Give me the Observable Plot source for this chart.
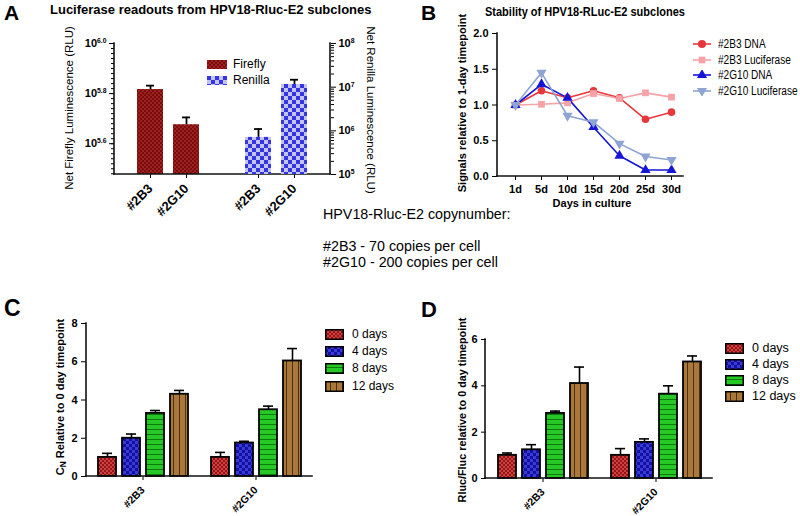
<!DOCTYPE html>
<html><head><meta charset="utf-8">
<script src="https://cdn.jsdelivr.net/npm/d3@7"></script>
<script src="https://cdn.jsdelivr.net/npm/@observablehq/plot@0.6"></script>
<style>
body{margin:0;background:#fff;}
#fig{position:relative;width:800px;height:516px;overflow:hidden;font-family:"Liberation Sans",Arial,sans-serif;color:#000;background:#fff;}
.abs{position:absolute;white-space:nowrap;line-height:1;}
.panel{position:absolute;}
.panel svg{position:absolute;left:0;top:0;max-width:none;}
.big{font-weight:bold;}
.rot{position:absolute;white-space:nowrap;line-height:1;transform:translate(-50%,-50%) rotate(-90deg);}
.rotr{position:absolute;white-space:nowrap;line-height:1;transform:translate(-50%,-50%) rotate(90deg);}
.leg{position:absolute;display:flex;align-items:center;white-space:nowrap;line-height:1;}
.leg svg{display:block;}
.narrow{display:inline-block;transform:scaleX(0.84);transform-origin:0 50%;}
</style></head>
<body>
<svg width="0" height="0" style="position:absolute">
<defs>
<pattern id="patFF" width="4" height="4" patternUnits="userSpaceOnUse"><rect width="4" height="4" fill="#7c0c0c"/><rect width="2" height="2" fill="#9a2222"/><rect x="2" y="2" width="2" height="2" fill="#9a2222"/></pattern>
<pattern id="patRN" width="8" height="8" patternUnits="userSpaceOnUse"><rect width="8" height="8" fill="#c4c4f4"/><rect width="4" height="4" fill="#3535e2"/><rect x="4" y="4" width="4" height="4" fill="#3535e2"/></pattern>
<pattern id="pat0" width="4" height="4" patternUnits="userSpaceOnUse"><rect width="4" height="4" fill="#9a1414"/><rect width="2" height="2" fill="#c84444"/><rect x="2" y="2" width="2" height="2" fill="#c84444"/></pattern>
<pattern id="pat4" width="6" height="6" patternUnits="userSpaceOnUse"><rect width="6" height="6" fill="#12129c"/><rect width="3" height="3" fill="#3a3ad8"/><rect x="3" y="3" width="3" height="3" fill="#3a3ad8"/></pattern>
<pattern id="pat8" width="5" height="5" patternUnits="userSpaceOnUse"><rect width="5" height="5" fill="#26c826"/><rect y="4" width="5" height="1" fill="#0d7a0d"/></pattern>
<pattern id="pat12" width="6" height="6" patternUnits="userSpaceOnUse"><rect width="6" height="6" fill="#a9783a"/><rect x="5" width="1" height="6" fill="#4e300c"/></pattern>
</defs>
</svg>
<div id="fig"></div>
<script>
// ---------- DATA ----------
// Panel A
const aClones = ["#2B3", "#2G10"];
const aAssays = ["Firefly", "Renilla"];
const fireflyRLU = [655000, 474000];
const fireflyErrTop = [679000, 507000];
const renillaRLU = [708000, 11500000];
const renillaErrTop = [1100000, 14800000];
const fireflyTickExp = [5.6, 5.8, 6.0];
const renillaTickExp = [5, 6, 7, 8];
const fireflyDomain = [300000, 1000000];
const renillaDomain = [100000, 100000000];

// Panel B
const days = ["1d", "5d", "10d", "15d", "20d", "25d", "30d"];
const seriesB = ["#2B3 DNA", "#2B3 Luciferase", "#2G10 DNA", "#2G10 Luciferase"];
const b2B3DNA = [1.0, 1.2, 1.1, 1.2, 1.1, 0.8, 0.9];
const b2B3Luc = [1.0, 1.01, 1.03, 1.16, 1.09, 1.17, 1.11];
const b2G10DNA = [1.0, 1.29, 1.1, 0.69, 0.29, 0.09, 0.09];
const b2G10Luc = [1.0, 1.45, 0.85, 0.76, 0.46, 0.28, 0.23];
const bTicks = [0, 0.5, 1.0, 1.5, 2.0];
const colorsB = ["#e8373c", "#f5a3a6", "#1515d8", "#8ea4d2"];

// Panels C & D
const groups = ["#2B3", "#2G10"];
const timepoints = ["0 days", "4 days", "8 days", "12 days"];
const cMean2B3 = [1.0, 2.0, 3.3, 4.3];
const cTop2B3 = [1.21, 2.22, 3.45, 4.5];
const cMean2G10 = [1.0, 1.75, 3.49, 6.04];
const cTop2G10 = [1.26, 1.84, 3.68, 6.69];
const cTicks = [0, 2, 4, 6, 8];
const dMean2B3 = [1.0, 1.24, 2.81, 4.1];
const dTop2B3 = [1.1, 1.46, 2.91, 4.81];
const dMean2G10 = [1.0, 1.56, 3.64, 5.03];
const dTop2G10 = [1.29, 1.71, 4.0, 5.29];
const dTicks = [0, 2, 4, 6];
const patterns = ["url(#pat0)", "url(#pat4)", "url(#pat8)", "url(#pat12)"];

// ---------- HELPERS ----------
const FONT = "'Liberation Sans', Arial, sans-serif";
const baseStyle = `font-family:${FONT};font-size:11px;font-weight:bold;color:#000;background:transparent;overflow:visible;`;
const fig = document.getElementById("fig");

function panel(left, top, w, h) {
  const d = document.createElement("div");
  d.className = "panel";
  Object.assign(d.style, {left: left + "px", top: top + "px", width: w + "px", height: h + "px"});
  fig.appendChild(d);
  return d;
}
function text(html, cls, css) {
  const d = document.createElement("div");
  d.className = cls;
  d.innerHTML = html;
  Object.assign(d.style, css);
  fig.appendChild(d);
  return d;
}
function axisLines(svg, xs, ys, sides) {
  const [x0, x1] = d3.extent(xs.range), [y0, y1] = d3.extent(ys.range);
  const g = d3.select(svg).append("g").attr("stroke", "#111").attr("stroke-width", 1.6).attr("stroke-linecap", "square");
  if (sides.includes("left")) g.append("line").attr("x1", x0).attr("x2", x0).attr("y1", y0).attr("y2", y1);
  if (sides.includes("right")) g.append("line").attr("x1", x1).attr("x2", x1).attr("y1", y0).attr("y2", y1);
  if (sides.includes("bottom")) g.append("line").attr("x1", x0).attr("x2", x1).attr("y1", y1).attr("y2", y1);
}
function superscripts(svg) {
  svg.querySelectorAll("text").forEach(t => {
    const s = t.textContent;
    if (!s.includes("^")) return;
    const [b, e] = s.split("^");
    t.textContent = b;
    const ts = document.createElementNS("http://www.w3.org/2000/svg", "tspan");
    ts.setAttribute("dy", "-0.55em");
    ts.setAttribute("font-size", "0.62em");
    ts.textContent = e;
    t.appendChild(ts);
  });
}

// ---------- PANEL A ----------
const aSlots = [...aClones.map(c => "Firefly " + c), "gap", ...aClones.map(c => "Renilla " + c)];
const aTickSlots = aSlots.filter(s => s !== "gap");
const ffRows = aClones.map((c, i) => ({slot: "Firefly " + c, base: fireflyDomain[0], value: fireflyRLU[i], top: fireflyErrTop[i]}));
const rnRows = aClones.map((c, i) => ({slot: "Renilla " + c, base: renillaDomain[0], value: renillaRLU[i], top: renillaErrTop[i]}));
const ffMinor = d3.range(5.48, 6.0, 0.02).map(e => 10 ** e);
const rnMinor = d3.range(5, 8).flatMap(k => d3.range(2, 10).map(m => m * 10 ** k));
const aX = {domain: aSlots, paddingInner: 0.27, paddingOuter: 0.554, label: null};
const aDims = {width: 400, height: 240, marginLeft: 114, marginRight: 70, marginTop: 43, marginBottom: 66, style: baseStyle};

const pA = panel(0, 0, 400, 240);
const plotFF = Plot.plot({
  ...aDims,
  x: aX,
  y: {type: "log", domain: fireflyDomain, label: null},
  marks: [
    Plot.ruleX(ffRows, {x: "slot", y1: "value", y2: "top", stroke: "#000", strokeWidth: 1.8}),
    Plot.tickY(ffRows, {x: "slot", y: "top", stroke: "#000", strokeWidth: 1.8, insetLeft: 9, insetRight: 9}),
    Plot.barY(ffRows, {x: "slot", y1: "base", y2: "value", fill: "url(#patFF)"}),
    Plot.axisY(ffMinor, {tickSize: 3, tickFormat: () => "", label: null}),
    Plot.axisY(fireflyTickExp.map(e => 10 ** e), {tickSize: 5, tickFormat: () => "", label: null}),
    Plot.text(fireflyTickExp, {y: e => 10 ** e, text: e => "10^" + e.toFixed(1), frameAnchor: "left", textAnchor: "end", dx: -8, fontSize: 11, fill: "#000"}),
    Plot.axisX(aTickSlots, {tickRotate: -45, tickSize: 4, label: null, tickFormat: d => d.split(" ")[1], fontSize: 13, fill: "#000", stroke: "#000"})
  ]
});
pA.appendChild(plotFF);
axisLines(plotFF, plotFF.scale("x"), plotFF.scale("y"), ["left", "bottom"]);
superscripts(plotFF);

const plotRN = Plot.plot({
  ...aDims,
  x: {...aX, axis: null},
  y: {type: "log", domain: renillaDomain, label: null},
  marks: [
    Plot.ruleX(rnRows, {x: "slot", y1: "value", y2: "top", stroke: "#000", strokeWidth: 1.8}),
    Plot.tickY(rnRows, {x: "slot", y: "top", stroke: "#000", strokeWidth: 1.8, insetLeft: 9, insetRight: 9}),
    Plot.barY(rnRows, {x: "slot", y1: "base", y2: "value", fill: "url(#patRN)"}),
    Plot.axisY(rnMinor, {anchor: "right", tickSize: 3, tickFormat: () => "", label: null}),
    Plot.axisY(renillaTickExp.map(e => 10 ** e), {anchor: "right", tickSize: 5, tickFormat: () => "", label: null}),
    Plot.text(renillaTickExp, {y: e => 10 ** e, text: e => "10^" + e, frameAnchor: "right", textAnchor: "start", dx: 8, fontSize: 11, fill: "#000"})
  ]
});
pA.appendChild(plotRN);
axisLines(plotRN, plotRN.scale("x"), plotRN.scale("y"), ["right"]);
superscripts(plotRN);

text("A", "abs big", {left: "4px", top: "2px", fontSize: "21px"});
text("Luciferase readouts from HPV18-Rluc-E2 subclones", "abs big", {left: "50px", top: "3px", fontSize: "13px"});
text("Net Firefly Luminescence (RLU)", "rot", {left: "70px", top: "108px", fontSize: "11.5px"});
text("Net Renilla Luminescence (RLU)", "rotr", {left: "370px", top: "110px", fontSize: "11.5px"});
const aLegTop = [58, 74];
aAssays.forEach((a, i) => {
  text(`<svg width="20" height="9"><rect width="20" height="9" fill="${["url(#patFF)", "url(#patRN)"][i]}"/></svg><span style="margin-left:6px">${a}</span>`,
    "leg", {left: "207px", top: aLegTop[i] + "px", fontSize: "12px"});
});

// ---------- PANEL B ----------
const bValues = [b2B3DNA, b2B3Luc, b2G10DNA, b2G10Luc];
const rowsB = seriesB.flatMap((s, k) => days.map((d, i) => ({series: s, day: d, value: bValues[k][i]})));
const sqrt3 = Math.sqrt(3);
const triangleDown = {
  draw(context, size) {
    const y = -Math.sqrt(size / (sqrt3 * 3));
    context.moveTo(0, -y * 2);
    context.lineTo(-sqrt3 * y, y);
    context.lineTo(sqrt3 * y, y);
    context.closePath();
  }
};
const symbolsB = [d3.symbolCircle, d3.symbolSquare, d3.symbolTriangle, triangleDown];
const pB = panel(400, 0, 400, 216);
const plotB = Plot.plot({
  width: 400, height: 216, marginLeft: 97, marginRight: 117, marginTop: 33, marginBottom: 40, style: baseStyle,
  x: {domain: days, type: "point", padding: 0.47, align: 0.6, label: null, tickSize: 4},
  y: {domain: [0, 2], ticks: bTicks, tickFormat: ".1f", label: null, tickSize: 5},
  color: {domain: seriesB, range: colorsB},
  symbol: {domain: seriesB, range: symbolsB},
  marks: [
    Plot.line(rowsB, {x: "day", y: "value", z: "series", stroke: "series", strokeWidth: 1.6}),
    Plot.dot(rowsB, {x: "day", y: "value", fill: "series", symbol: "series", r: 3.8, stroke: "none"})
  ]
});
pB.appendChild(plotB);
axisLines(plotB, plotB.scale("x"), plotB.scale("y"), ["left", "bottom"]);

text("B", "abs big", {left: "421px", top: "2px", fontSize: "21px"});
text("<span class='narrow' style='transform:scaleX(0.88)'>Stability of HPV18-RLuc-E2 subclones</span>", "abs big", {left: "485px", top: "6px", fontSize: "12.5px"});
text("Signals relative to 1-day timepoint", "rot big", {left: "462px", top: "103px", fontSize: "11px"});
text("Days in culture", "abs big", {left: "592px", top: "198px", fontSize: "11px", transform: "translateX(-50%)"});
const bLegTop = [44, 60, 75, 91];
seriesB.forEach((s, i) => {
  const path = d3.symbol(symbolsB[i], i === 0 ? 50 : 45)();
  text(`<svg width="20" height="10"><line x1="1" x2="19" y1="5" y2="5" stroke="${colorsB[i]}" stroke-width="1.6"/><path d="${path}" transform="translate(10,5)" fill="${colorsB[i]}"/></svg><span class="narrow" style="margin-left:6px">${s}</span>`,
    "leg", {left: "692px", top: (bLegTop[i] - 6) + "px", fontSize: "12px"});
});

// ---------- MIDDLE TEXT ----------
text("HPV18-Rluc-E2 copynumber:<br><br>#2B3 - 70 copies per cell<br>#2G10 - 200 copies per cell", "abs",
  {left: "323px", top: "206px", fontSize: "14.3px", lineHeight: "16px"});

// ---------- PANELS C & D ----------
function grouped(el, means, tops, yMax, ticks, dims) {
  const rows = groups.flatMap((g, gi) => timepoints.map((t, i) => ({group: g, tp: t, mean: means[gi][i], top: tops[gi][i]})));
  const p = Plot.plot({
    width: 400, height: 216, marginRight: 88, style: baseStyle, ...dims,
    facet: {data: rows, x: "group"},
    fx: {domain: groups, paddingInner: 0, paddingOuter: 0, label: null, tickRotate: -45, tickSize: 4, axis: "bottom"},
    x: {domain: timepoints, paddingInner: 0.25, paddingOuter: 0.479, axis: null},
    y: {domain: [0, yMax], ticks, tickFormat: "d", label: null, tickSize: 5},
    color: {domain: timepoints, range: patterns},
    marks: [
      Plot.ruleX(rows, {x: "tp", y1: "mean", y2: "top", stroke: "#000", strokeWidth: 1.6}),
      Plot.tickY(rows, {x: "tp", y: "top", stroke: "#000", strokeWidth: 1.6, insetLeft: 4, insetRight: 4}),
      Plot.barY(rows, {x: "tp", y: "mean", fill: "tp", stroke: "#000", strokeWidth: 1.8})
    ]
  });
  el.appendChild(p);
  d3.select(p).selectAll("[aria-label='fx-axis tick label']").attr("font-size", 10.5);
  axisLines(p, p.scale("fx"), p.scale("y"), ["left", "bottom"]);
  return p;
}
const pC = panel(0, 300, 400, 216);
grouped(pC, [cMean2B3, cMean2G10], [cTop2B3, cTop2G10], 8, cTicks, {marginLeft: 86, marginTop: 23, marginBottom: 40});
const pD = panel(400, 300, 400, 216);
grouped(pD, [dMean2B3, dMean2G10], [dTop2B3, dTop2G10], 6, dTicks, {marginLeft: 85, marginTop: 39, marginBottom: 38});

text("C", "abs big", {left: "4px", top: "297px", fontSize: "23px"});
text("D", "abs big", {left: "421px", top: "299px", fontSize: "22px"});
text("C<sub style='font-size:0.75em;vertical-align:-0.25em'>N</sub> Relative to 0 day timepoint", "rot big", {left: "62px", top: "397px", fontSize: "11px"});
text("Rluc/Fluc relative to 0 day timepoint", "rot big", {left: "462px", top: "410px", fontSize: "10.8px"});
const cLegTop = [334, 351, 368, 386];
const dLegTop = [348, 364, 380, 396];
timepoints.forEach((t, i) => {
  const sw = `<svg width="19" height="11"><rect x="0.75" y="0.75" width="17.5" height="9.5" fill="${patterns[i]}" stroke="#000" stroke-width="1.5"/></svg>`;
  text(`${sw}<span style="margin-left:8px">${t}</span>`, "leg", {left: "325px", top: (cLegTop[i] - 6) + "px", fontSize: "12px"});
  text(`${sw}<span style="margin-left:8px">${t}</span>`, "leg", {left: "725px", top: (dLegTop[i] - 6) + "px", fontSize: "12.5px"});
});
</script>
</body></html>
